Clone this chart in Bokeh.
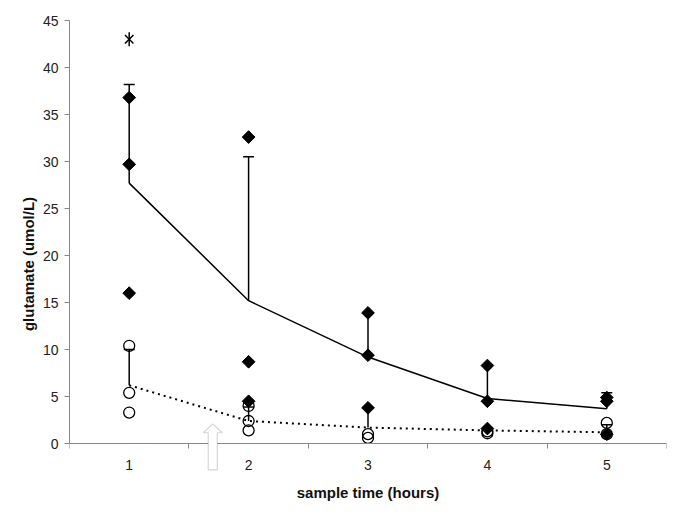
import numpy as np
from bokeh.plotting import figure
from bokeh.models import (Range1d, FixedTicker, ColumnDataSource, Whisker, TeeHead,
                          PolyAnnotation)
from bokeh.embed import file_html
from bokeh.resources import INLINE

# ---------------- data ----------------
categories = [1, 2, 3, 4, 5]
tick_labels = ["1", "2", "3", "4", "5"]
category_bounds = [0.5, 1.5, 2.5, 3.5, 4.5, 5.5]
y_ticks = [0, 5, 10, 15, 20, 25, 30, 35, 40, 45]

# solid series (diamonds) mean and upper error
mean_solid = [27.7, 15.2, 9.2, 4.8, 3.7]
upper_solid = [38.2, 30.5, 13.9, 8.3, 5.4]

# dotted series (open circles) mean and upper error
mean_dotted = [6.2, 2.4, 1.7, 1.4, 1.2]
upper_dotted = [10.0, 3.9, 3.8, 1.6, 2.0]

diamond_x = [1, 1, 1, 2, 2, 2, 3, 3, 3, 4, 4, 4, 5, 5, 5]
diamond_y = [36.8, 29.7, 16.0, 32.6, 8.7, 4.5, 13.9, 9.4, 3.8, 8.3, 4.5, 1.6, 4.9, 4.5, 1.0]

circle_x = [1, 1, 1, 2, 2, 2, 3, 3, 4, 4, 5, 5]
circle_y = [10.4, 5.4, 3.3, 4.0, 2.4, 1.4, 1.0, 0.6, 1.3, 1.1, 2.2, 1.0]

outlier_x = [1]
outlier_y = [43.0]

# arrow annotation (marks the intervention time)
arrow_x = 1.70
arrow_tip = 2.1
arrow_head_base = 1.15
arrow_tail = -2.8
arrow_head_half = 0.08
arrow_shaft_half = 0.038

Y_MIN, Y_MAX = 0, 45
Y_VIEW_BOTTOM = -6.8   # room below the zero line for the arrow and axis texts

AXIS_COLOR = "#888888"
FONT = "Liberation Sans"

p = figure(frame_width=597, frame_height=487, output_backend="svg", toolbar_location=None,
           x_range=Range1d(0.5, 5.5), y_range=Range1d(Y_VIEW_BOTTOM, Y_MAX),
           min_border_left=69, min_border_right=11, min_border_top=20, min_border_bottom=0)
p.outline_line_color = None
p.xgrid.visible = False
p.ygrid.visible = False
p.background_fill_color = "white"

# x axis sits on y = 0
p.xaxis.fixed_location = 0
p.xaxis.ticker = FixedTicker(ticks=categories, minor_ticks=category_bounds)
p.xaxis.major_label_overrides = {c: t for c, t in zip(categories, tick_labels)}
p.xaxis.major_tick_out = 5
p.xaxis.major_tick_in = 0
p.xaxis.minor_tick_out = 5
p.xaxis.minor_tick_in = 0
p.xaxis.minor_tick_line_color = AXIS_COLOR
p.xaxis.major_label_standoff = 11
p.xaxis.axis_label = "sample time (hours)"
p.xaxis.axis_label_standoff = 11

p.yaxis.ticker = FixedTicker(ticks=y_ticks)
p.yaxis.bounds = (Y_MIN, Y_MAX)
p.yaxis.major_tick_out = 5
p.yaxis.major_tick_in = 0
p.yaxis.minor_tick_line_color = None
p.yaxis.major_label_standoff = 6
p.yaxis.axis_label = "glutamate (umol/L)"
p.yaxis.axis_label_standoff = 3

for ax in (p.xaxis, p.yaxis):
    ax.axis_line_color = AXIS_COLOR
    ax.major_label_text_font = FONT
    ax.major_label_text_font_size = "14px"
    ax.major_label_text_color = "#222222"
    ax.axis_label_text_font = FONT
    ax.axis_label_text_font_size = "15px"
    ax.axis_label_text_font_style = "bold"
    ax.axis_label_text_color = "#111111"
p.yaxis.major_tick_line_color = AXIS_COLOR
p.xaxis.major_tick_line_color = None

# mean lines
p.line(categories, mean_solid, line_color="black", line_width=1.5)
p.line(categories, mean_dotted, line_color="black", line_width=2, line_dash="2 4")

# error bars (upper only)
src_s = ColumnDataSource(dict(x=categories, lower=mean_solid, upper=upper_solid))
src_d = ColumnDataSource(dict(x=categories, lower=mean_dotted, upper=upper_dotted))
for src in (src_s, src_d):
    w = Whisker(base="x", lower="lower", upper="upper", source=src,
                line_color="black", line_width=1.5,
                upper_head=TeeHead(size=11, line_color="black", line_width=1.5),
                lower_head=None)
    p.add_layout(w)

# points
p.scatter(diamond_x, diamond_y, marker="square", angle=np.pi / 4, size=9,
          fill_color="black", line_color="black")
p.scatter(circle_x, circle_y, marker="circle", size=11, fill_color=None,
          line_color="black", line_width=1.3)
p.scatter(outlier_x, outlier_y, marker="x", size=12, line_color="black", line_width=1.5)
p.scatter(outlier_x, outlier_y, marker="dash", angle=np.pi / 2, size=14,
          line_color="black", line_width=1.5)

# hollow block arrow
ax_pts = [arrow_x, arrow_x + arrow_head_half, arrow_x + arrow_shaft_half,
          arrow_x + arrow_shaft_half, arrow_x - arrow_shaft_half,
          arrow_x - arrow_shaft_half, arrow_x - arrow_head_half]
ay_pts = [arrow_tip, arrow_head_base, arrow_head_base, arrow_tail, arrow_tail,
          arrow_head_base, arrow_head_base]
p.add_layout(PolyAnnotation(xs=ax_pts, ys=ay_pts, fill_color="white", fill_alpha=1,
                            line_color="#777777", line_width=1.2))

open("out.html", "w").write(file_html(p, INLINE))
